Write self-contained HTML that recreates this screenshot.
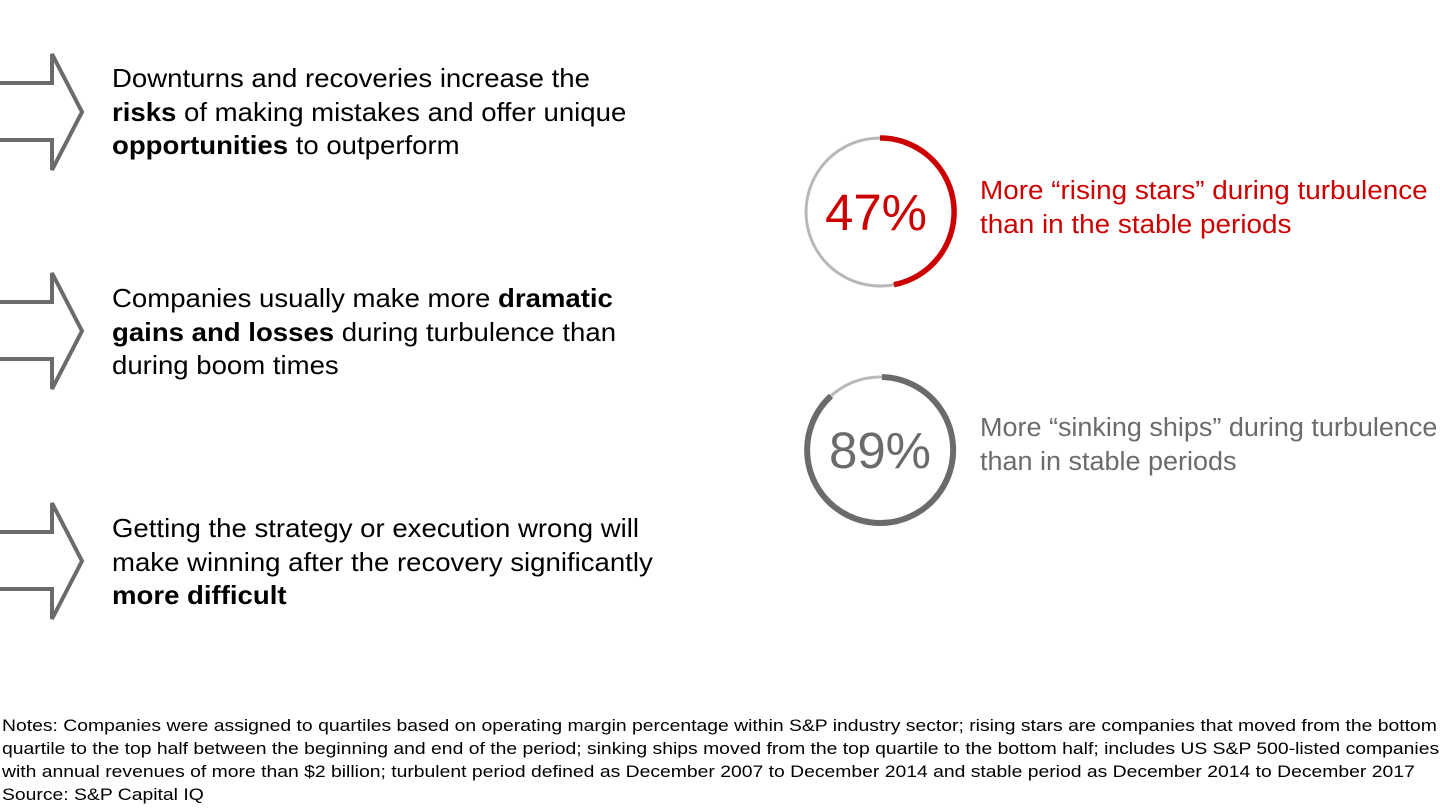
<!DOCTYPE html>
<html><head><meta charset="utf-8"><style>
body{margin:0;width:1440px;height:810px;background:#fff;font-family:"Liberation Sans",Arial,sans-serif;position:relative;overflow:hidden}
.t{position:absolute;left:112px;font-size:26px;line-height:33.5px;color:#000;transform:scaleX(1.06);transform-origin:0 0;white-space:nowrap}
.t b{font-weight:bold}
.r{position:absolute;left:980px;font-size:25.5px;line-height:33.5px;transform-origin:0 0;white-space:nowrap}
.n{position:absolute;left:2px;top:715px;font-size:16.4px;line-height:23px;color:#000;white-space:nowrap;transform:scaleX(1.18);transform-origin:0 0}
.pct{position:absolute;font-size:51px;width:160px;text-align:center}
</style></head><body>
<svg width="1440" height="810" style="position:absolute;left:0;top:0">
<g fill="none" stroke="#6b6b6b" stroke-width="4" stroke-linejoin="miter">
<path d="M-5 83 H52 V54 L82 112 L52 170 V140 H-5"/>
<path d="M-5 302 H52 V273 L82 331 L52 389 V359 H-5"/>
<path d="M-5 532 H52 V503 L82 561 L52 619 V589 H-5"/>
</g>
<circle cx="880" cy="212" r="74" fill="none" stroke="#b8b8b8" stroke-width="3"/>
<path d="M880 138 A74 74 0 0 1 893.9 284.7" fill="none" stroke="#cc0000" stroke-width="5.5"/>
<circle cx="880" cy="450" r="73" fill="none" stroke="#b8b8b8" stroke-width="3"/>
<path d="M882 377 A73 73 0 1 1 831 396" fill="none" stroke="#6b6b6b" stroke-width="6"/>
</svg>
<div class="t" style="top:62px">Downturns and recoveries increase the<br><b>risks</b> of making mistakes and offer unique<br><b>opportunities</b> to outperform</div>
<div class="t" style="top:282px">Companies usually make more <b>dramatic<br>gains and losses</b> during turbulence than<br>during boom times</div>
<div class="t" style="top:512px">Getting the strategy or execution wrong will<br>make winning after the recovery significantly<br><b>more difficult</b></div>
<div class="pct" style="left:796px;top:183px;color:#cc0000">47%</div>
<div class="pct" style="left:800px;top:421px;color:#6b6b6b">89%</div>
<div class="r" style="top:175px;color:#cc0000;transform:scaleX(1.093)">More “rising stars” during turbulence<br>than in the stable periods</div>
<div class="r" style="top:412px;color:#6b6b6b;transform:scaleX(1.058)">More “sinking ships” during turbulence<br>than in stable periods</div>
<div class="n">Notes: Companies were assigned to quartiles based on operating margin percentage within S&amp;P industry sector; rising stars are companies that moved from the bottom<br>quartile to the top half between the beginning and end of the period; sinking ships moved from the top quartile to the bottom half; includes US S&amp;P 500-listed companies<br>with annual revenues of more than $2 billion; turbulent period defined as December 2007 to December 2014 and stable period as December 2014 to December 2017<br>Source: S&amp;P Capital IQ</div>
</body></html>
